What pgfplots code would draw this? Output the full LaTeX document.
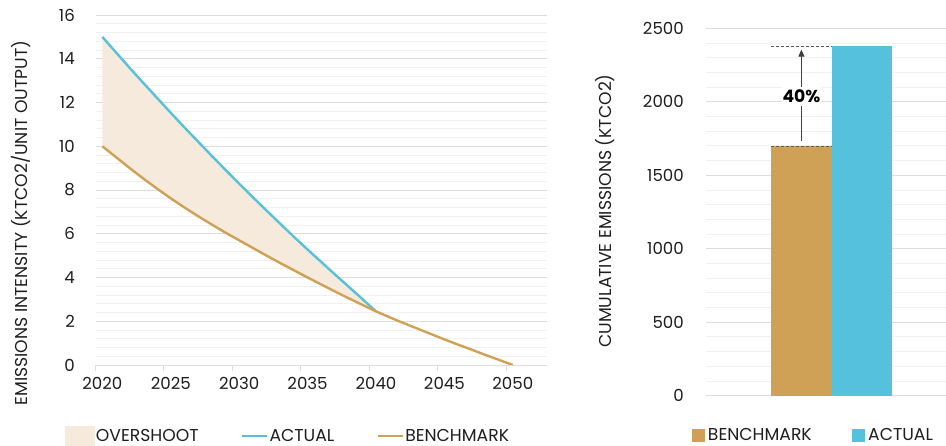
\documentclass[border=0pt]{standalone}
\usepackage{fontspec}
\setmainfont{Poppins}
\usepackage{pgfplots}
\pgfplotsset{compat=1.18}
\usepackage{pgfplotstable}
\usetikzlibrary{arrows.meta}
\definecolor{actualc}{HTML}{56C1DC}
\definecolor{benchc}{HTML}{CFA157}
\definecolor{overc}{HTML}{F5EADB}
\definecolor{majgrid}{HTML}{DCDCDC}
\definecolor{mingrid}{HTML}{F1F1F1}
\definecolor{txt}{HTML}{1E1E1E}
\newcommand{\fs}{\fontsize{17.2}{20}\selectfont}
\newcommand{\ts}{\fontsize{16.6}{20}\selectfont}

\pgfplotstableread{
year value
2020 15.00
2021 14.29
2022 13.58
2023 12.89
2024 12.21
2025 11.53
2026 10.86
2027 10.21
2028 9.56
2029 8.92
2030 8.29
2031 7.67
2032 7.06
2033 6.46
2034 5.86
2035 5.28
2036 4.71
2037 4.14
2038 3.58
2039 3.02
2040 2.45
}\actualtbl

\pgfplotstableread{
year value
2020 10.00
2021 9.50
2022 9.00
2023 8.52
2024 8.06
2025 7.62
2026 7.20
2027 6.80
2028 6.42
2029 6.05
2030 5.70
2031 5.35
2032 5.00
2033 4.66
2034 4.33
2035 4.00
2036 3.68
2037 3.36
2038 3.05
2039 2.75
2040 2.45
2041 2.18
2042 1.92
2043 1.67
2044 1.42
2045 1.17
2046 0.93
2047 0.70
2048 0.46
2049 0.23
2050 0.00
}\benchtbl

% overshoot area: actual forward, benchmark back
\pgfplotstableread{
year value
2020 15.00
2021 14.29
2022 13.58
2023 12.89
2024 12.21
2025 11.53
2026 10.86
2027 10.21
2028 9.56
2029 8.92
2030 8.29
2031 7.67
2032 7.06
2033 6.46
2034 5.86
2035 5.28
2036 4.71
2037 4.14
2038 3.58
2039 3.02
2040 2.45
2039 2.75
2038 3.05
2037 3.36
2036 3.68
2035 4.00
2034 4.33
2033 4.66
2032 5.00
2031 5.35
2030 5.70
2029 6.05
2028 6.42
2027 6.80
2026 7.20
2025 7.62
2024 8.06
2023 8.52
2022 9.00
2021 9.50
2020 10.00
}\overtbl

\pgfplotsset{
  /pgf/number format/assume math mode=true,
  /pgf/number format/1000 sep={},
  every tick label/.append style={font=\ts, text=txt},
}

\begin{document}
\begin{tikzpicture}[x=1pt,y=1pt]
% ---------------- left chart ----------------
\begin{axis}[
  at={(95.5pt,81pt)}, anchor=south west, scale only axis,
  width=451.5pt, height=350pt,
  xmin=2019.5, xmax=2052.5, ymin=0, ymax=16,
  axis line style={draw=none},
  ytick={0,2,...,16}, minor y tick num=4,
  ymajorgrids, yminorgrids,
  major grid style={majgrid, line width=0.9pt},
  minor grid style={mingrid, line width=0.9pt},
  major tick length=0pt, minor tick length=0pt,
  xtick={2020,2025,...,2050},
  xtick pos=bottom, ytick pos=left,
  extra x ticks={2019.5,2024.5,...,2049.5},
  extra x tick labels={},
  extra x tick style={major tick length=6pt, tick align=outside,
     tick style={majgrid, line width=0.9pt}, ymajorgrids=false, yminorgrids=false},
  yticklabel style={anchor=east, inner xsep=0pt, xshift=-20.5pt},
  xticklabel style={anchor=north, inner ysep=0pt, yshift=-12pt},
  legend style={at={(-0.0676,-0.203)}, anchor=west, draw=none, fill=none,
    inner sep=0pt, outer sep=0pt, font=\fs, text=txt,
    nodes={inner xsep=1.5pt, inner ysep=0pt},
    /tikz/every even column/.append style={column sep=40.5pt}},
  legend columns=3, legend cell align=left,
]
\addlegendimage{legend image code/.code={\fill[overc] (0pt,-10pt) rectangle (29pt,10pt);}}
\addlegendentry{OVERSHOOT}
\addlegendimage{legend image code/.code={\draw[actualc, line width=2.4pt] (0pt,0pt) -- (25pt,0pt);}}
\addlegendentry{ACTUAL}
\addlegendimage{legend image code/.code={\draw[benchc, line width=2.4pt] (0pt,0pt) -- (25pt,0pt);}}
\addlegendentry{BENCHMARK}
\addplot[fill=overc, draw=none, forget plot] table[x=year,y=value] {\overtbl};
\addplot[draw=actualc, line width=2.4pt, forget plot] table[x=year,y=value] {\actualtbl};
\addplot[draw=benchc, line width=2.4pt, forget plot] table[x=year,y=value] {\benchtbl};
\end{axis}
\node[rotate=90, font=\fs, text=txt] at (20.5,223) {EMISSIONS INTENSITY (KTCO2/UNIT OUTPUT)};
% ---------------- right chart ----------------
\begin{axis}[
  at={(706pt,50.3pt)}, anchor=south west, scale only axis,
  width=240pt, height=367.4pt,
  xmin=-1.581, xmax=2.396, ymin=0, ymax=2500,
  axis line style={draw=none},
  xtick=\empty,
  ytick={0,500,...,2500}, minor y tick num=4,
  ymajorgrids, yminorgrids,
  major grid style={majgrid, line width=0.9pt},
  minor grid style={mingrid, line width=0.9pt},
  major tick length=0pt, minor tick length=0pt,
  ytick pos=left,
  yticklabel style={anchor=east, inner xsep=0pt, xshift=-22pt},
  legend style={at={(-0.058,-0.107)}, anchor=west, draw=none, fill=none,
    inner sep=0pt, outer sep=0pt, font=\fs, text=txt,
    nodes={inner xsep=3.5pt, inner ysep=0pt},
    /tikz/every even column/.append style={column sep=37pt}},
  legend columns=2, legend cell align=left,
]
\addlegendimage{legend image code/.code={\fill[benchc] (0pt,-6pt) rectangle (12pt,6pt);}}
\addlegendentry{BENCHMARK}
\addlegendimage{legend image code/.code={\fill[actualc] (0pt,-6pt) rectangle (12pt,6pt);}}
\addlegendentry{ACTUAL}
\addplot[ybar, bar width=1, bar shift=0pt, fill=benchc, draw=none, forget plot] coordinates {(0,1700)};
\addplot[ybar, bar width=1, bar shift=0pt, fill=actualc, draw=none, forget plot] coordinates {(1,2380)};
\draw[densely dashed, black!65, line width=0.6pt] (axis cs:-0.5,1700) -- (axis cs:0.5,1700);
\draw[densely dashed, black!65, line width=0.6pt] (axis cs:-0.5,2380) -- (axis cs:0.5,2380);
\draw[-{Triangle[length=7pt,width=6pt]}, line width=1pt, black!75] (axis cs:0,1730) -- (axis cs:0,2355);
\node[fill=white, font=\fs\bfseries, text=black, inner xsep=1pt, inner ysep=3pt] at (axis cs:0,2035) {40\%};
\end{axis}
\node[rotate=90, font=\fs, text=txt] at (605,235) {CUMULATIVE EMISSIONS (KTCO2)};
\pgfresetboundingbox
\path[use as bounding box] (0,0) rectangle (946,446);
\end{tikzpicture}
\end{document}
